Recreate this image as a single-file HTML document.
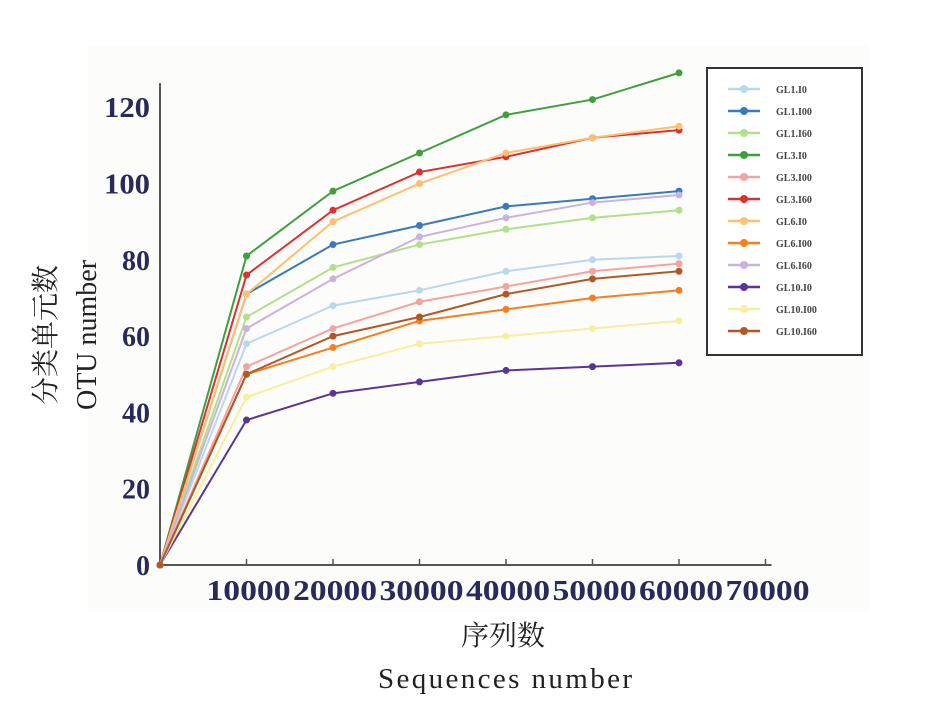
<!DOCTYPE html>
<html><head><meta charset="utf-8"><style>
body{margin:0;background:#fff;}
svg text{font-family:"Liberation Serif","Noto Serif CJK SC",serif;}
</style></head><body>
<svg width="942" height="696" xmlns="http://www.w3.org/2000/svg">
<rect x="88" y="45" width="782" height="567" fill="#fcfcfa"/>
<g id="axes"></g>
<g id="series"></g>
<g id="legend"></g>
<text x="503" y="645" font-size="28" text-anchor="middle" fill="#222">序列数</text>
<text x="378" y="688" font-size="29" textLength="254" lengthAdjust="spacing" fill="#222">Sequences  number</text>
<text transform="translate(55,335) rotate(-90)" font-size="28" text-anchor="middle" fill="#222">分类单元数</text>
<text transform="translate(96,335) rotate(-90)" font-size="28" text-anchor="middle" fill="#222">OTU  number</text>
</svg>
<script>
const xValues=[0,10000,20000,30000,40000,50000,60000];
const xTicks=[10000,20000,30000,40000,50000,60000,70000];
const yTicks=[0,20,40,60,80,100,120];
const seriesNames=["GL1.I0","GL1.I00","GL1.I60","GL3.I0","GL3.I00","GL3.I60","GL6.I0","GL6.I00","GL6.I60","GL10.I0","GL10.I00","GL10.I60"];
const gl1i0=[0,58,68,72,77,80,81];
const gl1i00=[0,71,84,89,94,96,98];
const gl1i60=[0,65,78,84,88,91,93];
const gl3i0=[0,81,98,108,118,122,129];
const gl3i00=[0,52,62,69,73,77,79];
const gl3i60=[0,76,93,103,107,112,114];
const gl6i0=[0,71,90,100,108,112,115];
const gl6i00=[0,50,57,64,67,70,72];
const gl6i60=[0,62,75,86,91,95,97];
const gl10i0=[0,38,45,48,51,52,53];
const gl10i00=[0,44,52,58,60,62,64];
const gl10i60=[0,50,60,65,71,75,77];
const seriesData=[gl1i0,gl1i00,gl1i60,gl3i0,gl3i00,gl3i60,gl6i0,gl6i00,gl6i60,gl10i0,gl10i00,gl10i60];
const colors=["#b9d9ea","#3a78c0","#b2df8a","#3f9f3f","#f4a3a3","#dd3030","#fcc070","#f57f20","#c9b3dc","#5a3598","#f5f0a0","#b05828"];
const NS="http://www.w3.org/2000/svg";
const X0=160,XS=86.5/10000,Y0=565,YS=76.3/20;
const sx=v=>X0+v*XS, sy=v=>Y0-v*YS;
function mk(tag,attrs,parent){const e=document.createElementNS(NS,tag);for(const k in attrs)e.setAttribute(k,attrs[k]);parent.appendChild(e);return e;}
const axes=document.getElementById('axes');
let l=mk('line',{x1:X0,y1:Y0,x2:sx(70000)+6,y2:Y0,stroke:'#555','stroke-width':2},axes);


l=mk('line',{x1:X0,y1:Y0,x2:X0,y2:sy(125)-5,stroke:'#555','stroke-width':2},axes);


xTicks.forEach(t=>{
 const tk=mk('line',{x1:sx(t),y1:Y0,x2:sx(t),y2:Y0-6,stroke:'#555','stroke-width':1.5},axes);
 
 
 const tx=mk('text',{x:sx(t)+2,y:Y0+35,'font-size':28,'font-weight':'bold','text-anchor':'middle',textLength:84,lengthAdjust:'spacingAndGlyphs',fill:'#2a2a5a'},axes);
 tx.textContent=t;
 
 
});
yTicks.forEach(t=>{
 const tx=mk('text',{x:X0-10,y:sy(t)+10,'font-size':28,'font-weight':'bold','text-anchor':'end',fill:'#2a2a5a'},axes);
 if(t>=100){tx.setAttribute('textLength',46);tx.setAttribute('lengthAdjust','spacingAndGlyphs');}
 tx.textContent=t;
 
 
});
const sg=document.getElementById('series');
seriesData.forEach((d,i)=>{
 const pts=d.map((v,j)=>sx(xValues[j])+','+sy(v)).join(' ');
 const pl=mk('polyline',{points:pts,fill:'none',stroke:colors[i],'stroke-width':2},sg);
 
 
 d.forEach((v,j)=>{
  const c=mk('circle',{cx:sx(xValues[j]),cy:sy(v),r:3.5,fill:colors[i]},sg);
  
  
 });
});
const lg=document.getElementById('legend');
const box=mk('rect',{x:707,y:68,width:155,height:287,fill:'#fff',stroke:'#333','stroke-width':2},lg);


seriesNames.forEach((n,i)=>{
 const y=89+i*22;
 const ln=mk('line',{x1:728,y1:y,x2:760,y2:y,stroke:colors[i],'stroke-width':2.5},lg);
 
 
 const c=mk('circle',{cx:744,cy:y,r:4,fill:colors[i]},lg);
 
 
 const t=mk('text',{x:776,y:y+4,'font-size':10,'font-weight':'bold',fill:'#444'},lg);
 t.textContent=n;
 
 
});
</script>
</body></html>
